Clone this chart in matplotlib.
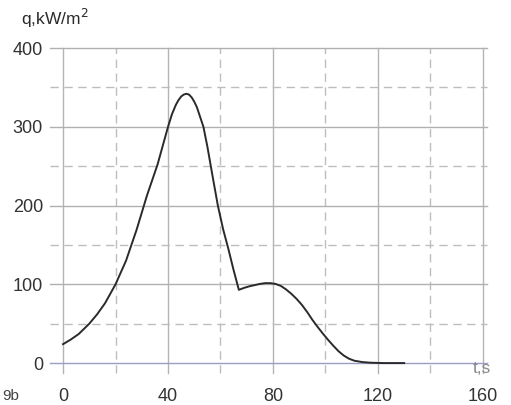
import matplotlib
matplotlib.use('Agg')
import matplotlib.pyplot as plt

plt.rcParams['font.family'] = ['Liberation Sans', 'DejaVu Sans']

# heat flux curve
t = [0, 3, 6, 10, 13, 16, 20, 24, 28, 32, 36, 38, 40, 41.5, 43, 44, 45, 46,
     47, 48, 49, 50, 51, 52, 53.5, 55, 57, 59, 61, 63, 65, 67, 69, 71, 73,
     75, 77, 79, 81, 83, 85, 87, 89, 91, 93, 95, 97, 99, 101, 103, 105,
     107, 109, 111, 114, 117, 122, 130]
q = [24, 30, 37, 50, 62, 76, 100, 130, 169, 213, 252, 276, 300, 316, 328,
     334, 338.5, 341, 342, 341, 337.5, 332, 325, 315, 300, 275, 237, 200,
     170, 145, 118, 93, 95.5, 97.5, 99, 100.5, 101.5, 101.5, 100.5, 98,
     93.5, 88, 81.5, 74, 65, 55, 46, 37.5, 29.5, 22, 15, 9.5, 5.5, 3, 1.3,
     0.5, 0, 0]

x_major = [0, 40, 80, 120, 160]
x_minor = [20, 60, 100, 140]
y_major = [0, 100, 200, 300, 400]
y_minor = [50, 150, 250, 350]

fig = plt.figure(figsize=(5.11, 4.05), dpi=100)
ax = fig.add_axes([0.0977, 0.0802, 0.855, 0.801])
ax.set_xlim(-5, 161.5)
ax.set_ylim(-12, 400)
for s in ax.spines.values():
    s.set_visible(False)

#grid
for x in x_major:
    ax.axvline(x, color='#b4b4b4', lw=1.0, clip_on=False, zorder=1)
for x in x_minor:
    ax.axvline(x, color='#bdbdbd', lw=1.0, ls=(0, (6, 4)), clip_on=False, zorder=1)
for y in y_major[1:]:
    ax.axhline(y, color='#b0b0b0', lw=1.0, clip_on=False, zorder=1)
ax.axhline(0, color='#9c9cc4', lw=1.0, clip_on=False, zorder=1)
for y in y_minor:
    ax.axhline(y, color='#bdbdbd', lw=1.0, ls=(0, (6, 4)), clip_on=False, zorder=1)

ax.plot(t, q, color='#2a2a2a', lw=1.4, zorder=3, solid_joinstyle='round')

ax.set_xticks(x_major)
ax.set_yticks(y_major)
ax.tick_params(axis='both', length=0, labelsize=13, colors='#333333')
ax.tick_params(axis='x', pad=11)
ax.tick_params(axis='y', pad=5)

fig.text(0.041, 0.955, 'q,kW/m$^2$', fontsize=12.5, color='#2a2a2a', ha='left', va='center')
fig.text(0.925, 0.09, 't,s', fontsize=12.5, color='#8a8a8a', ha='left', va='center')
fig.text(0.004, 0.004, '9b', fontsize=11, color='#444444', ha='left', va='bottom')

fig.savefig('out.png', dpi=100)
